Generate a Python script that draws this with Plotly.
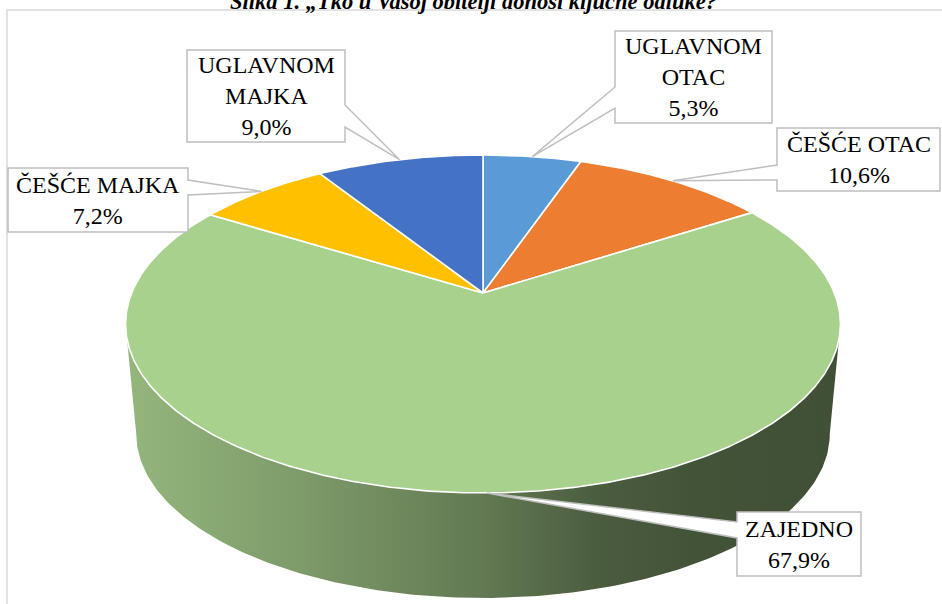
import numpy as np
import plotly.graph_objects as go

# ---- data ----
categories = ["UGLAVNOM OTAC", "ČEŠĆE OTAC", "ZAJEDNO", "ČEŠĆE MAJKA", "UGLAVNOM MAJKA"]
label_lines = ["UGLAVNOM<br>OTAC", "ČEŠĆE OTAC", "ZAJEDNO", "ČEŠĆE MAJKA", "UGLAVNOM<br>MAJKA"]
values = [5.3, 10.6, 67.9, 7.2, 9.0]
value_labels = ["5,3%", "10,6%", "67,9%", "7,2%", "9,0%"]
colors = ["#5B9BD5", "#ED7D31", "#A9D18E", "#FFC000", "#4472C4"]
title_text = "Slika 1. „Tko u Vašoj obitelji donosi ključne odluke?"

# ---- layout / geometry (pixel space) ----
W, H = 942, 604
CX, CY = 483, 293          # apex (pie centre) on screen
A, B, K = 351.4, 163.3, 0.1834   # perspective ellipse params
DEPTH = 111
BOT_SCALE = 0.97
FONT = "Liberation Serif"

# callout boxes: x0, x1, y0, y1, tail side, tail y (upper), tail y (lower)
boxes = [
    (615, 772, 31, 123, "left", 87, 108),
    (777, 940, 128, 191, "left", 165, 180),
    (737, 861, 512, 576, "left", 522, 538),
    (8, 188, 168, 232, "right", 180, 195),
    (187, 345, 50, 142, "right", 105, 127),
]

# side shading (fraction across width -> brightness factor)
shade_stops = [(0.0, 0.88), (0.25, 0.74), (0.5, 0.58), (0.67, 0.44), (0.8, 0.40), (1.0, 0.38)]


def proj(phi_deg, bottom=False):
    phi = np.radians(phi_deg)
    u = np.sin(phi)
    v = -np.cos(phi)
    s = BOT_SCALE if bottom else 1.0
    den = 1 - K * v
    x = CX + s * A * u / den
    y = CY + s * B * v / den + (DEPTH if bottom else 0)
    return x, y


def hex_rgb(h):
    h = h.lstrip("#")
    return tuple(int(h[i:i + 2], 16) for i in (0, 2, 4))


total = sum(values)
starts = np.cumsum([0] + values[:-1]) / total * 360
ends = np.cumsum(values) / total * 360

fig = go.Figure()

# visible side range
phi_r = np.degrees(np.arccos(-K))
phi_l = 360 - phi_r
half_w = A / np.sqrt(1 - K ** 2)

for i in range(len(values)):
    a = max(starts[i], phi_r)
    b = min(ends[i], phi_l)
    if b <= a:
        continue
    ph = np.linspace(a, b, 200)
    xt, yt = proj(ph)
    xb, yb = proj(ph[::-1], bottom=True)
    xs = np.concatenate([xt, xb])
    ys = np.concatenate([yt, yb])
    r, g, bl = hex_rgb(colors[i])
    cs = [[p, f"rgb({int(r*f)},{int(g*f)},{int(bl*f)})"] for p, f in shade_stops]
    fig.add_trace(go.Scatter(
        x=xs, y=ys, mode="lines", fill="toself",
        line=dict(width=0, color="rgba(0,0,0,0)"),
        fillgradient=dict(type="horizontal", colorscale=cs,
                          start=CX - half_w, stop=CX + half_w),
        hoverinfo="skip", showlegend=False))

# top face slices
for i in range(len(values)):
    ph = np.linspace(starts[i], ends[i], max(20, int(values[i] * 8)))
    xa, ya = proj(ph)
    xs = np.concatenate([[CX], xa, [CX]])
    ys = np.concatenate([[CY], ya, [CY]])
    fig.add_trace(go.Scatter(
        x=xs, y=ys, mode="lines", fill="toself", fillcolor=colors[i],
        line=dict(color="white", width=1.6), name=categories[i],
        hoverinfo="skip", showlegend=False))

shapes = []
annotations = []
# chart frame
shapes.append(dict(type="rect", xref="x", yref="y", x0=7, y0=10, x1=960, y1=640,
                   line=dict(color="#d9d9d9", width=1.5), fillcolor="rgba(0,0,0,0)",
                   layer="below"))

for i in range(len(values)):
    mid = (starts[i] + ends[i]) / 2
    ax, ay = proj(mid)
    x0, x1, y0, y1, side, ta, tb = boxes[i]
    if side == "left":
        path = (f"M {x0},{y0} L {x1},{y0} L {x1},{y1} L {x0},{y1} "
                f"L {x0},{tb} L {ax:.1f},{ay:.1f} L {x0},{ta} Z")
    else:
        path = (f"M {x0},{y0} L {x1},{y0} L {x1},{ta} L {ax:.1f},{ay:.1f} "
                f"L {x1},{tb} L {x1},{y1} L {x0},{y1} Z")
    shapes.append(dict(type="path", xref="x", yref="y", path=path,
                       line=dict(color="#bfbfbf", width=1.5), fillcolor="white",
                       layer="above"))
    annotations.append(dict(
        x=(x0 + x1) / 2, y=(y0 + y1) / 2, xref="x", yref="y",
        text=label_lines[i] + "<br>" + value_labels[i], showarrow=False,
        font=dict(family=FONT, size=24, color="black"),
        xanchor="center", yanchor="middle", align="center"))

annotations.append(dict(
    x=473, y=16, xref="x", yref="y", text="<b><i>" + title_text + "</i></b>",
    showarrow=False, xanchor="center", yanchor="bottom",
    font=dict(family=FONT, size=22.5, color="black")))

fig.update_layout(
    width=W, height=H, margin=dict(l=0, r=0, t=0, b=0),
    paper_bgcolor="white", plot_bgcolor="white",
    font=dict(family=FONT),
    xaxis=dict(range=[0, W], visible=False, fixedrange=True),
    yaxis=dict(range=[H, 0], visible=False, fixedrange=True),
    shapes=shapes, annotations=annotations, hovermode=False, showlegend=False,
)

fig.write_html("out.html", config={"displayModeBar": False},
               post_script="document.body.style.margin='0';")
